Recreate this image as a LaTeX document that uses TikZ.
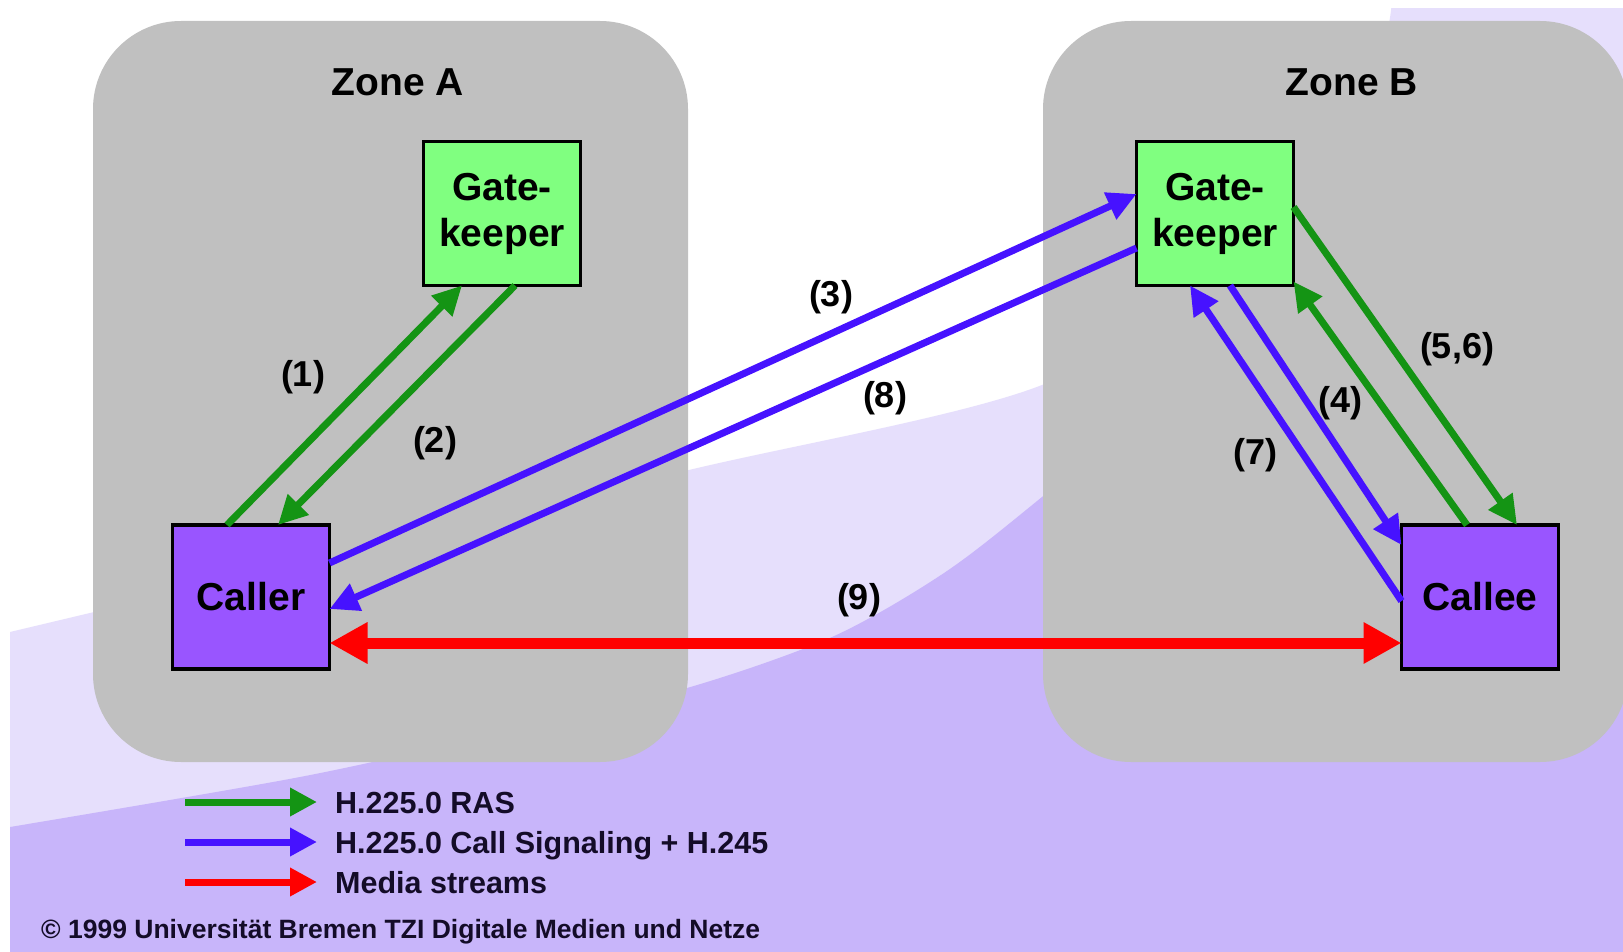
\documentclass[tikz,border=0pt]{standalone}
\usepackage{fontspec}
\setmainfont{Liberation Sans}
\usetikzlibrary{arrows.meta,calc}

\definecolor{zonegray}{HTML}{C0C0C0}
\definecolor{lightlav}{HTML}{E6DFFC}
\definecolor{darklav}{HTML}{C8B5FA}
\definecolor{gkgreen}{HTML}{80FF80}
\definecolor{eppurple}{HTML}{9955FF}
\definecolor{rasgreen}{HTML}{149414}
\definecolor{sigblue}{HTML}{4612FF}
\definecolor{mediared}{HTML}{FF0000}
\definecolor{inkdark}{HTML}{140C28}

\newcommand\fzone{\fontsize{39}{46}\selectfont\bfseries}
\newcommand\flbl{\fontsize{36}{38}\selectfont\bfseries}
\newcommand\flegend{\fontsize{30.5}{32}\selectfont\bfseries}
\newcommand\fcopy{\fontsize{26.5}{28}\selectfont\bfseries}

\begin{document}
\begin{tikzpicture}[x=1pt,y=-1pt,
  zone/.style={fill=zonegray, rounded corners=88pt, inner sep=0pt, outer sep=0pt},
  zonetitle/.style={inner sep=0pt, font=\fzone, text=black},
  box/.style={draw=black, line width=3.5pt, inner sep=0pt, outer sep=0pt,
    minimum width=157pt, minimum height=144pt, align=center, font=\fzone, text=black},
  gate/.style={box, fill=gkgreen},
  endpt/.style={box, fill=eppurple},
  lbl/.style={inner sep=0pt, font=\flbl, text=black},
  ras/.style={draw=rasgreen, line width=7pt, -{Triangle[length=29pt,width=28pt]}},
  sig/.style={draw=sigblue, line width=7pt, -{Triangle[length=29pt,width=28pt]}},
  media/.style={draw=mediared, line width=11pt,
    {Triangle[length=38pt,width=39pt]}-{Triangle[length=38pt,width=39pt]}},
  legarrow/.style={line width=7pt, -{Triangle[length=27pt,width=27pt]}},
  legtext/.style={inner sep=0pt, font=\flegend, text=inkdark, anchor=base west},
]
\useasboundingbox (0,0) rectangle (1623,952);
\clip (0,0) rectangle (1623,952);

% slide background: white with two lavender swathes
\fill[white] (0,0) rectangle (1623,952);
\begin{scope}
  \clip (10,9) rectangle (1623,952);
  \fill[lightlav] (10,952) -- plot[smooth] coordinates
    {(10,632) (300,563) (689,470) (1042,385) (1250,250) (1370,80) (1392,0)}
    -- (1630,0) -- (1630,952) -- cycle;
  \fill[darklav] (10,952) -- plot[smooth] coordinates
    {(10,827) (300,777) (500,733) (687,688) (832,637) (944,573) (1042,497)
     (1200,365) (1400,265) (1700,210)}
    -- (1700,952) -- cycle;
\end{scope}

% zones
\node[zone, minimum width=595pt, minimum height=741pt] (zoneA) at (390.5,391.5) {};
\node[zone, minimum width=585pt, minimum height=741pt] (zoneB) at (1335.5,391.5) {};
\node[zonetitle] (titleA) at (398,82) {Zone A};
\node[zonetitle] (titleB) at (1352,82) {Zone B};

% entities
\node[gate]  (gkA)    at (502,213.5)  {Gate-\\keeper};
\node[gate]  (gkB)    at (1215,213.5) {Gate-\\keeper};
\node[endpt] (caller) at (251,597)    {Caller};
\node[endpt] (callee) at (1480,597)   {Callee};

% RAS exchanges
\draw[ras] ([xshift=-24pt]caller.north) -- ([xshift=-40pt]gkA.south);
\draw[ras] ([xshift=13pt]gkA.south) -- ([xshift=27pt]caller.north);
\draw[ras] ([yshift=6.5pt]gkB.east) -- ([xshift=37pt]callee.north);
\draw[ras] ([xshift=-13pt]callee.north) -- ([yshift=4pt]gkB.south east);

% call signalling
\draw[sig] ([yshift=34pt]caller.east) -- ([yshift=19.5pt]gkB.west);
\draw[sig] ([yshift=-34.5pt]gkB.west) -- ([yshift=-12pt]caller.east);
\draw[sig] ([xshift=15pt]gkB.south) -- ([yshift=52pt]callee.west);
\draw[sig] ([yshift=-4pt]callee.west) -- ([xshift=-25pt]gkB.south);

% media
\draw[media] ([yshift=-46pt]caller.east) -- ([yshift=-46pt]callee.west);

% step numbers
\node[lbl] (n1)  at (303,377)  {(1)};
\node[lbl] (n2)  at (435,443)  {(2)};
\node[lbl] (n3)  at (831,297)  {(3)};
\node[lbl] (n8)  at (885,398)  {(8)};
\node[lbl] (n4)  at (1340,403) {(4)};
\node[lbl] (n7)  at (1255,455) {(7)};
\node[lbl] (n56) at (1457,349) {(5,6)};
\node[lbl] (n9)  at (859,600)  {(9)};

% legend
\coordinate (legRasA) at (185,802);  \coordinate (legRasB) at (317,802);
\coordinate (legSigA) at (185,842);  \coordinate (legSigB) at (317,842);
\coordinate (legMedA) at (185,882);  \coordinate (legMedB) at (317,882);
\draw[legarrow, draw=rasgreen] (legRasA) -- (legRasB);
\draw[legarrow, draw=sigblue]  (legSigA) -- (legSigB);
\draw[legarrow, draw=mediared] (legMedA) -- (legMedB);
\node[legtext] (legRas) at (335,813) {H.225.0 RAS};
\node[legtext] (legSig) at (335,853) {H.225.0 Call Signaling + H.245};
\node[legtext] (legMed) at (335,893) {Media streams};

\node[inner sep=0pt, font=\fcopy, text=inkdark, anchor=base west] (copyr) at (41,938)
  {© 1999 Universität Bremen TZI Digitale Medien und Netze};
\end{tikzpicture}
\end{document}
